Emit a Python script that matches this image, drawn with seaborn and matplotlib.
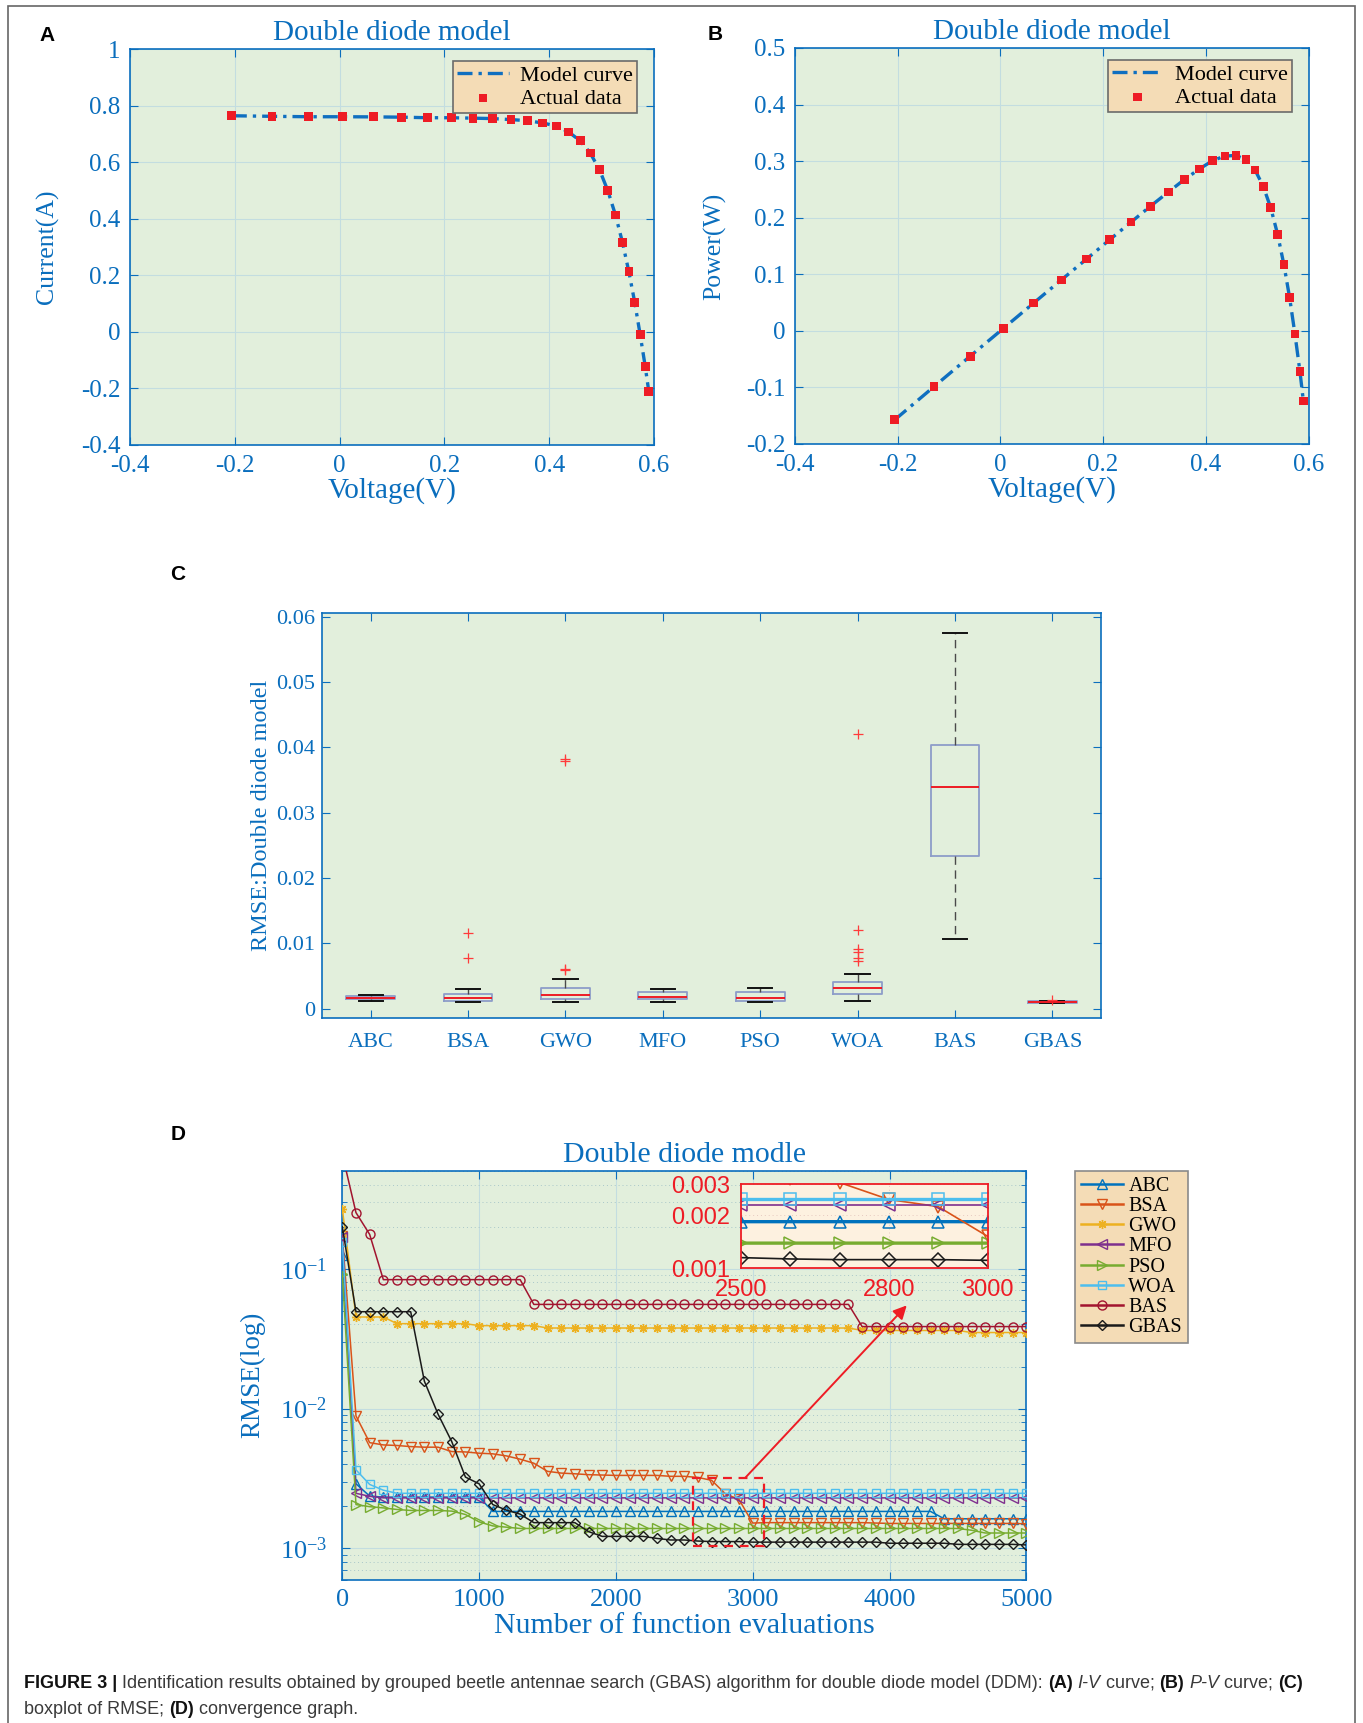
import matplotlib
matplotlib.use("Agg")
import matplotlib.pyplot as plt
import seaborn as sns
from matplotlib import font_manager
from matplotlib.lines import Line2D
from matplotlib.patches import Rectangle
from matplotlib.text import Annotation
from matplotlib.ticker import FixedLocator, LogLocator, NullFormatter, NullLocator

# ---------------- data ----------------
# panels A and B: measured I-V points of the cell
voltage = [-0.2057, -0.1291, -0.0588, 0.0057, 0.0646, 0.1185, 0.1678, 0.2132, 0.2545,
           0.2924, 0.3269, 0.3585, 0.3873, 0.4137, 0.4373, 0.4590, 0.4784, 0.4960,
           0.5119, 0.5265, 0.5398, 0.5521, 0.5633, 0.5736, 0.5833, 0.5900]
current = [0.7640, 0.7620, 0.7605, 0.7605, 0.7600, 0.7590, 0.7570, 0.7570, 0.7555,
           0.7540, 0.7505, 0.7465, 0.7385, 0.7280, 0.7065, 0.6755, 0.6320, 0.5730,
           0.4990, 0.4130, 0.3165, 0.2120, 0.1035, -0.0100, -0.1230, -0.2100]
power = [-0.1572, -0.0984, -0.0447, 0.0043, 0.0491, 0.0899, 0.1270, 0.1614, 0.1923,
         0.2205, 0.2453, 0.2676, 0.2860, 0.3012, 0.3090, 0.3101, 0.3023, 0.2842,
         0.2554, 0.2174, 0.1708, 0.1170, 0.0583, -0.0057, -0.0717, -0.1239]

volt_ticks = [-0.4, -0.2, 0, 0.2, 0.4, 0.6]
volt_labels = ["-0.4", "-0.2", "0", "0.2", "0.4", "0.6"]
curr_ticks = [-0.4, -0.2, 0, 0.2, 0.4, 0.6, 0.8, 1.0]
curr_labels = ["-0.4", "-0.2", "0", "0.2", "0.4", "0.6", "0.8", "1"]
pow_ticks = [-0.2, -0.1, 0, 0.1, 0.2, 0.3, 0.4, 0.5]
pow_labels = ["-0.2", "-0.1", "0", "0.1", "0.2", "0.3", "0.4", "0.5"]

# panel C: RMSE box statistics
algorithms = ["ABC", "BSA", "GWO", "MFO", "PSO", "WOA", "BAS", "GBAS"]
box_median = [0.00160, 0.00160, 0.00209, 0.00176, 0.00160, 0.00321, 0.0339, 0.00102]
box_q1 = [0.00139, 0.00112, 0.00144, 0.00144, 0.00123, 0.00225, 0.0233, 0.00091]
box_q3 = [0.00187, 0.00225, 0.00321, 0.00257, 0.00257, 0.00401, 0.0403, 0.00112]
box_low = [0.00112, 0.00096, 0.00096, 0.00096, 0.00096, 0.00112, 0.0106, 0.00091]
box_high = [0.00209, 0.00305, 0.00449, 0.00305, 0.00321, 0.00529, 0.0575, 0.00120]
box_outliers = [[], [0.01155, 0.00768], [0.0382, 0.0380, 0.0061, 0.0059], [], [],
                [0.0420, 0.0120, 0.00906, 0.0087, 0.0077, 0.0073], [], [0.00128]]
rmse_ticks = [0, 0.01, 0.02, 0.03, 0.04, 0.05, 0.06]
rmse_labels = ["0", "0.01", "0.02", "0.03", "0.04", "0.05", "0.06"]

# panel D: convergence curves, one value every 100 evaluations
evaluations = list(range(0, 5001, 100))
conv_abc = [0.126, 0.0029, 0.00237, 0.00233, 0.00233, 0.00233, 0.00233, 0.00233, 0.00233, 0.00233,
            0.00233, 0.00184, 0.00184, 0.00184, 0.00184, 0.00184, 0.00184, 0.00184, 0.00184, 0.00184,
            0.00184, 0.00184, 0.00184, 0.00184, 0.00184, 0.00184, 0.00184, 0.00184, 0.00184, 0.00184,
            0.00184, 0.00184, 0.00184, 0.00184, 0.00184, 0.00184, 0.00184, 0.00184, 0.00184, 0.00184,
            0.00184, 0.00184, 0.00184, 0.00184, 0.00163, 0.00163, 0.00163, 0.00163, 0.00163, 0.00163,
            0.00163]
conv_bsa = [0.172, 0.00887, 0.00571, 0.0055, 0.00545, 0.00535, 0.0053, 0.0053, 0.00493, 0.0049,
            0.0048, 0.00475, 0.00459, 0.00435, 0.00407, 0.00356, 0.00346, 0.00342, 0.00337, 0.00335,
            0.00333, 0.00333, 0.00333, 0.00333, 0.00328, 0.00328, 0.00322, 0.00307, 0.00246, 0.00224,
            0.00152, 0.00153, 0.00153, 0.00153, 0.00153, 0.00153, 0.00153, 0.00153, 0.00153, 0.00152,
            0.00151, 0.00151, 0.00151, 0.00151, 0.00151, 0.00151, 0.00151, 0.00151, 0.00151, 0.00151,
            0.0015]
conv_gwo = [0.269, 0.0452, 0.0452, 0.0452, 0.0405, 0.0405, 0.0405, 0.0405, 0.0405, 0.0405,
            0.0392, 0.0392, 0.0392, 0.0392, 0.0392, 0.0377, 0.0377, 0.0377, 0.0377, 0.0377,
            0.0377, 0.0377, 0.0377, 0.0377, 0.0377, 0.0377, 0.0377, 0.0377, 0.0377, 0.0377,
            0.0377, 0.0377, 0.0377, 0.0377, 0.0377, 0.0377, 0.0377, 0.0377, 0.0362, 0.0362,
            0.0362, 0.0362, 0.0362, 0.0362, 0.0362, 0.0362, 0.035, 0.035, 0.035, 0.035,
            0.035]
conv_mfo = [0.169, 0.00248, 0.00236, 0.0023, 0.0023, 0.0023, 0.0023, 0.0023, 0.0023, 0.0023,
            0.0023, 0.0023, 0.0023, 0.0023, 0.0023, 0.0023, 0.0023, 0.0023, 0.0023, 0.0023,
            0.0023, 0.0023, 0.0023, 0.0023, 0.0023, 0.0023, 0.0023, 0.0023, 0.0023, 0.0023,
            0.0023, 0.0023, 0.0023, 0.0023, 0.0023, 0.0023, 0.0023, 0.0023, 0.0023, 0.0023,
            0.0023, 0.0023, 0.0023, 0.0023, 0.0023, 0.0023, 0.0023, 0.0023, 0.0023, 0.0023,
            0.0023]
conv_pso = [0.0917, 0.00206, 0.00199, 0.00195, 0.0019, 0.00187, 0.00187, 0.00187, 0.00185, 0.00175,
            0.00155, 0.00145, 0.00142, 0.00139, 0.00139, 0.00139, 0.00139, 0.00139, 0.00139, 0.00139,
            0.00139, 0.00139, 0.00139, 0.00139, 0.00139, 0.00139, 0.00139, 0.00139, 0.00139, 0.00139,
            0.00139, 0.00139, 0.00139, 0.00139, 0.00139, 0.00139, 0.00139, 0.00139, 0.00139, 0.00139,
            0.00139, 0.00139, 0.00139, 0.00139, 0.00139, 0.00139, 0.00135, 0.00129, 0.00129, 0.00129,
            0.00129]
conv_woa = [0.155, 0.00365, 0.00287, 0.00261, 0.00248, 0.00248, 0.00248, 0.00248, 0.00248, 0.00248,
            0.00248, 0.00248, 0.00248, 0.00248, 0.00248, 0.00248, 0.00248, 0.00248, 0.00248, 0.00248,
            0.00248, 0.00248, 0.00248, 0.00248, 0.00248, 0.00248, 0.00248, 0.00248, 0.00248, 0.00248,
            0.00248, 0.00248, 0.00248, 0.00248, 0.00248, 0.00248, 0.00248, 0.00248, 0.00248, 0.00248,
            0.00248, 0.00248, 0.00248, 0.00248, 0.00248, 0.00248, 0.00248, 0.00248, 0.00248, 0.00248,
            0.00248]
conv_bas = [0.66, 0.252, 0.176, 0.0836, 0.0836, 0.0836, 0.0836, 0.0836, 0.0836, 0.0836,
            0.0836, 0.0836, 0.0836, 0.0836, 0.0556, 0.0556, 0.0556, 0.0556, 0.0556, 0.0556,
            0.0556, 0.0556, 0.0556, 0.0556, 0.0556, 0.0556, 0.0556, 0.0556, 0.0556, 0.0556,
            0.0556, 0.0556, 0.0556, 0.0556, 0.0556, 0.0556, 0.0556, 0.0556, 0.0386, 0.0386,
            0.0386, 0.0386, 0.0386, 0.0386, 0.0386, 0.0386, 0.0386, 0.0386, 0.0386, 0.0386,
            0.0386]
conv_gbas = [0.2, 0.0493, 0.0493, 0.0493, 0.0493, 0.0493, 0.0157, 0.00912, 0.00581, 0.00324,
             0.0029, 0.00206, 0.00188, 0.00176, 0.00153, 0.00153, 0.00153, 0.00153, 0.00132, 0.00122,
             0.00122, 0.00122, 0.00122, 0.00118, 0.00115, 0.00115, 0.00113, 0.00112, 0.00112, 0.00112,
             0.00111, 0.00111, 0.00111, 0.00111, 0.00111, 0.00111, 0.00111, 0.00111, 0.00111, 0.00111,
             0.00109, 0.00109, 0.00109, 0.00109, 0.00109, 0.00107, 0.00107, 0.00107, 0.00107, 0.00107,
             0.00106]

# ---------------- style ----------------
W, H = 1363, 1723
TXT_BLUE = "#0a6ebd"
AX_BG = "#e2efdc"
GRID = "#c3dde0"
RED = "#ee1c25"
LEG_BG = "#f4dcb6"
DASHDOT = (0, (4.5, 1.8, 1.0, 1.8))

series = [
    ("ABC", conv_abc, "#0072BD", "^", 6.5),
    ("BSA", conv_bsa, "#D95319", "v", 6.5),
    ("GWO", conv_gwo, "#EDB120", (8, 2, 0), 6.5),
    ("MFO", conv_mfo, "#7E2F8E", "<", 6.5),
    ("PSO", conv_pso, "#77AC30", ">", 6.5),
    ("WOA", conv_woa, "#4DBEEE", "s", 5.5),
    ("BAS", conv_bas, "#A2142F", "o", 6.5),
    ("GBAS", conv_gbas, "#1a1a1a", "D", 5.0),
]

plt.rcParams["font.family"] = ["Liberation Serif", "DejaVu Serif"]
plt.rcParams["axes.unicode_minus"] = False
plt.rcParams["mathtext.fontset"] = "custom"
plt.rcParams["mathtext.rm"] = "Liberation Serif"
plt.rcParams["mathtext.it"] = "Liberation Serif:italic"

installed = {f.name for f in font_manager.fontManager.ttflist}
if "Liberation Sans Narrow" in installed:
    CAP_FONT, CAP_SIZE = "Liberation Sans Narrow", 15.5
else:
    CAP_FONT, CAP_SIZE = "Liberation Sans", 13.0

fig = plt.figure(figsize=(W / 100, H / 100), dpi=100)


def axes_px(left, top, right, bottom):
    return fig.add_axes([left / W, 1 - bottom / H, (right - left) / W, (bottom - top) / H])


def matlab_look(ax, size, pad):
    ax.set_facecolor(AX_BG)
    for sp in ax.spines.values():
        sp.set_color(TXT_BLUE)
        sp.set_linewidth(1.2)
    ax.tick_params(which="both", direction="in", top=True, right=True,
                   colors=TXT_BLUE, labelsize=size, pad=pad)
    ax.tick_params(which="major", length=6)
    ax.tick_params(which="minor", length=3.5)


def iv_panel(ax, yvals, yticks, ylabels, ylabel):
    matlab_look(ax, 18, 7)
    ax.grid(True, color=GRID, lw=0.8)
    ax.set_axisbelow(True)
    sns.lineplot(x=voltage, y=yvals, ax=ax, color="#0f6fc0", lw=2.4, linestyle=DASHDOT,
                 sort=False, estimator=None, label="Model curve", zorder=2)
    sns.scatterplot(x=voltage, y=yvals, ax=ax, marker="s", s=40, color=RED,
                    edgecolor="none", linewidth=0, label="Actual data", zorder=3)
    ax.set_xlim(-0.4, 0.6)
    ax.set_ylim(yticks[0], yticks[-1])
    ax.set_xticks(volt_ticks, volt_labels)
    ax.set_yticks(yticks, ylabels)
    ax.set_title("Double diode model", color=TXT_BLUE, fontsize=21, y=1.040, va="center", pad=0)
    ax.set_xlabel("Voltage(V)", color=TXT_BLUE, fontsize=21, va="center")
    ax.set_ylabel(ylabel, color=TXT_BLUE, fontsize=18.5, va="center")
    ax.xaxis.set_label_coords(0.5, -0.115)
    ax.yaxis.set_label_coords(-0.157, 0.5)
    leg = ax.legend(loc="upper right", bbox_to_anchor=(1 - 17 / 524, 1 - 12 / 396),
                    borderaxespad=0, fancybox=False, facecolor=LEG_BG, edgecolor="#6b6b6b",
                    framealpha=1, fontsize=16, handlelength=2.3, handletextpad=0.5,
                    borderpad=0.2, labelspacing=0.1)
    leg.get_frame().set_linewidth(1.2)


# ---------------- panel A ----------------
axA = axes_px(130, 49, 654, 445)
iv_panel(axA, current, curr_ticks, curr_labels, "Current(A)")

# ---------------- panel B ----------------
axB = axes_px(795, 48, 1308.5, 444)
iv_panel(axB, power, pow_ticks, pow_labels, "Power(W)")

# ---------------- panel C ----------------
axC = axes_px(322, 613, 1101, 1018)
matlab_look(axC, 16, 5)
stats = []
for name, med, q1, q3, lo, hi, out in zip(algorithms, box_median, box_q1, box_q3,
                                          box_low, box_high, box_outliers):
    stats.append(dict(label=name, med=med, q1=q1, q3=q3, whislo=lo, whishi=hi, fliers=out))
positions = list(range(1, len(algorithms) + 1))
axC.bxp(stats, positions=positions, widths=0.5, capwidths=0.25,
        boxprops=dict(color="#8d9dc9", lw=1.3),
        medianprops=dict(color=RED, lw=1.4),
        whiskerprops=dict(color="#4a4a4a", lw=1.0, linestyle=(0, (6, 4))),
        capprops=dict(color="#111111", lw=1.4),
        flierprops=dict(marker="+", markeredgecolor="#ff3b3b", markersize=7,
                        markeredgewidth=0.9, linestyle="none"))
axC.set_xlim(0.5, 8.5)
axC.set_ylim(-0.00145, 0.0606)
axC.set_xticks(positions, algorithms, fontsize=16)
axC.set_yticks(rmse_ticks, rmse_labels)
axC.tick_params(axis="x", pad=11)
axC.set_ylabel("RMSE:Double diode model", color=TXT_BLUE, fontsize=17.5, va="center")
axC.yaxis.set_label_coords(-0.0775, 0.5)

# ---------------- panel D ----------------
axD = axes_px(342.3, 1171, 1026.3, 1579.5)
matlab_look(axD, 19, 11)
for name, vals, color, marker, ms in series:
    sns.lineplot(x=evaluations, y=vals, ax=axD, color=color, lw=1.1, marker=marker,
                 markersize=ms, markerfacecolor="none", markeredgecolor=color,
                 markeredgewidth=1.0, estimator=None, sort=False, legend=False, zorder=3)
axD.set_yscale("log")
axD.set_xlim(0, 5000)
axD.set_ylim(6.0e-4, 0.5)
axD.set_xticks([0, 1000, 2000, 3000, 4000, 5000], ["0", "1000", "2000", "3000", "4000", "5000"])
axD.yaxis.set_major_locator(FixedLocator([1e-3, 1e-2, 1e-1]))
axD.set_yticklabels(["$10^{-3}$", "$10^{-2}$", "$10^{-1}$"])
axD.yaxis.set_minor_locator(LogLocator(base=10, subs=[2, 3, 4, 5, 6, 7, 8, 9], numticks=20))
axD.yaxis.set_minor_formatter(NullFormatter())
axD.xaxis.set_minor_locator(NullLocator())
axD.tick_params(axis="x", pad=6.5)
axD.grid(True, which="major", color=GRID, lw=0.8)
axD.grid(True, which="minor", axis="y", color="#a9c7c9", lw=0.7, ls=(0, (1, 3)))
axD.set_axisbelow(True)
axD.set_title("Double diode modle", color=TXT_BLUE, fontsize=21.5, y=1.039, va="center", pad=0)
axD.set_xlabel("Number of function evaluations", color=TXT_BLUE, fontsize=21.5, va="center")
axD.set_ylabel("RMSE(log)", color=TXT_BLUE, fontsize=19.5, va="center")
axD.xaxis.set_label_coords(0.5, -0.113)
axD.yaxis.set_label_coords(-0.1305, 0.5)

# zoom frame and arrow
axD.add_patch(Rectangle((2560, 0.00104), 520, 0.00319 - 0.00104, fill=False,
                        ec=RED, lw=1.6, ls=(0, (4, 3)), zorder=4))
axD.annotate("", xy=(4126, 0.0547), xytext=(2944, 0.00319),
             arrowprops=dict(arrowstyle="-|>", color=RED, lw=1.4, mutation_scale=20,
                             shrinkA=0, shrinkB=0), zorder=4)

handles = [Line2D([0], [0], color=c, marker=m, markerfacecolor="none", markeredgecolor=c,
                  markersize=ms, markeredgewidth=1.0, lw=1.8)
           for _, _, c, m, ms in series]
legD = axD.legend(handles, [s[0] for s in series], loc="upper left",
                  bbox_to_anchor=((1075 - 342.3) / 684.0, 1.0), borderaxespad=0,
                  fancybox=False, facecolor=LEG_BG, edgecolor="#8a8a8a", framealpha=1,
                  fontsize=14.5, numpoints=1, handlelength=2.1, handletextpad=0.25,
                  labelspacing=0.05, borderpad=0.3)
legD.get_frame().set_linewidth(1.2)

# inset
axI = axes_px(741, 1184.3, 987.5, 1268.3)
axI.set_facecolor("#fdf1e0")
for name, vals, color, marker, ms in series:
    sns.lineplot(x=evaluations, y=vals, ax=axI, color=color,
                 lw=1.2 if name in ("BSA", "GBAS", "MFO") else 2.4, marker=marker,
                 markersize=ms + 2.5, markerfacecolor="none", markeredgecolor=color,
                 markeredgewidth=1.1, estimator=None, sort=False, legend=False)
axI.set_yscale("log")
axI.set_xlim(2500, 3000)
axI.set_ylim(0.001, 0.003)
axI.yaxis.set_major_locator(FixedLocator([0.001, 0.002, 0.003]))
axI.set_yticklabels(["0.001", "0.002", "0.003"])
axI.yaxis.set_minor_locator(NullLocator())
axI.yaxis.set_minor_formatter(NullFormatter())
axI.set_xticks([2500, 2800, 3000], ["2500", "2800", "3000"])
axI.tick_params(which="both", length=0, colors=RED, labelsize=17, pad=8)
for lab in axI.get_xticklabels() + axI.get_yticklabels():
    lab.set_fontfamily("Liberation Sans")
axI.grid(True, color="#e6c9c0", lw=0.7, ls=(0, (1, 3)))
for sp in axI.spines.values():
    sp.set_color(RED)
    sp.set_linewidth(1.3)
axI.set_xlabel("")
axI.set_ylabel("")

# ---------------- panel letters, frame, caption ----------------
for letter, x, y in [("A", 47, 35.5), ("B", 715, 35), ("C", 178, 574), ("D", 178, 1135)]:
    fig.text(x / W, 1 - y / H, letter, fontfamily="Liberation Sans", fontweight="bold",
             fontsize=15, ha="center", va="center")

fig.patches.append(Rectangle((8 / W, -0.01), (1355 - 8) / W, 1.01 - 6 / H, transform=fig.transFigure,
                             fill=False, ec="#666666", lw=1.2))


def caption_line(x, y, pieces):
    style = {"b": dict(fontweight="bold", color="#111111"),
             "i": dict(fontstyle="italic", color="#3a3a3a"),
             "n": dict(color="#3a3a3a")}
    prev = fig.text(x / W, 1 - y / H, pieces[0][0], fontfamily=CAP_FONT, fontsize=CAP_SIZE,
                    va="bottom", ha="left", **style[pieces[0][1]])
    for s, kind in pieces[1:]:
        ann = Annotation(s, xy=(1, 0), xycoords=prev, va="bottom", ha="left",
                         fontfamily=CAP_FONT, fontsize=CAP_SIZE, **style[kind])
        fig.add_artist(ann)
        prev = ann


caption_line(24, 1692, [("FIGURE 3 | ", "b"),
                        ("Identification results obtained by grouped beetle antennae search (GBAS) "
                         "algorithm for double diode model (DDM): ", "n"),
                        ("(A)", "b"), (" ", "n"), ("I-V", "i"), (" curve; ", "n"),
                        ("(B)", "b"), (" ", "n"), ("P-V", "i"), (" curve; ", "n"), ("(C)", "b")])
caption_line(24, 1718, [("boxplot of RMSE; ", "n"), ("(D)", "b"), (" convergence graph.", "n")])

fig.savefig("out.png", dpi=100)
